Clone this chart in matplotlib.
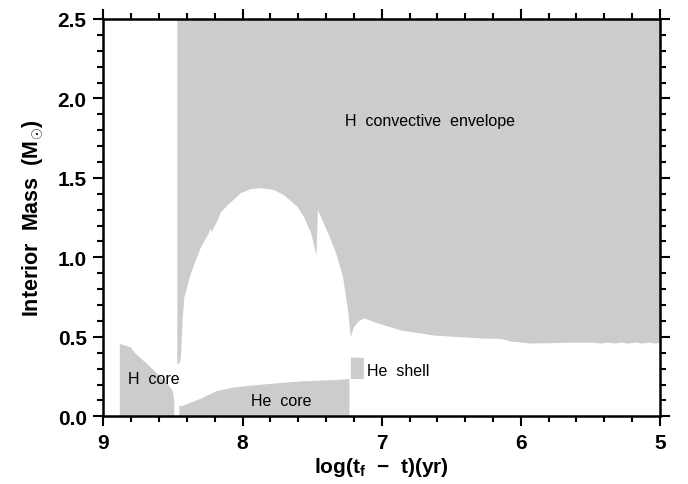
import matplotlib
matplotlib.use('Agg')
import matplotlib.pyplot as plt
from matplotlib.ticker import MultipleLocator

plt.rcParams['font.family'] = ['Liberation Sans', 'DejaVu Sans']
plt.rcParams['mathtext.fontset'] = 'custom'
plt.rcParams['mathtext.rm'] = 'Liberation Sans:bold'
plt.rcParams['mathtext.it'] = 'Liberation Sans:bold'
plt.rcParams['mathtext.bf'] = 'Liberation Sans:bold'

GRAY = '#cccccc'

# lower boundary of the H convective envelope (x = log(tf - t), y = mass)
env_x = [8.472, 8.455, 8.446, 8.434, 8.422, 8.374, 8.302, 8.245, 8.232, 8.226,
         8.218, 8.182, 8.158, 8.086, 8.014, 7.942, 7.871, 7.777, 7.705, 7.606,
         7.561, 7.511, 7.472, 7.462, 7.388, 7.331, 7.281, 7.245, 7.225, 7.205,
         7.17, 7.129, 7.029, 6.863, 6.626, 6.266, 6.144, 6.072, 5.928, 5.568,
         5.47, 5.43, 5.38, 5.33, 5.28, 5.23, 5.18, 5.13, 5.08, 5.04, 5.0]
env_y = [0.335, 0.335, 0.372, 0.606, 0.751, 0.903, 1.067, 1.155, 1.185, 1.160,
         1.174, 1.237, 1.288, 1.351, 1.408, 1.433, 1.439, 1.427, 1.395, 1.319,
         1.256, 1.155, 1.016, 1.300, 1.155, 1.029, 0.878, 0.669, 0.500, 0.560,
         0.600, 0.619, 0.587, 0.543, 0.511, 0.492, 0.490, 0.473, 0.461, 0.467,
         0.466, 0.460, 0.467, 0.461, 0.467, 0.460, 0.467, 0.461, 0.467, 0.461, 0.467]

# convective H core
hcore_x = [8.885, 8.806, 8.782, 8.662, 8.542, 8.506, 8.494]
hcore_y = [0.459, 0.437, 0.406, 0.311, 0.208, 0.164, 0.101]

# convective He core
hecore_x = [8.458, 8.434, 8.302, 8.182, 8.062, 7.942, 7.820, 7.580, 7.340, 7.235]
hecore_y = [0.069, 0.069, 0.114, 0.164, 0.185, 0.196, 0.206, 0.223, 0.231, 0.238]

# He shell
shell_x = [7.225, 7.132]
shell_lo = [0.238, 0.238]
shell_hi = [0.374, 0.370]

fig = plt.figure(figsize=(6.88, 4.85), dpi=100)
ax = fig.add_axes([0.1502, 0.1396, 0.8091, 0.8192])

ax.fill_between(env_x, env_y, 2.5, color=GRAY, lw=0)
ax.fill_between(hcore_x, 0, hcore_y, color=GRAY, lw=0)
ax.fill_between(hecore_x, 0, hecore_y, color=GRAY, lw=0)
ax.fill_between(shell_x, shell_lo, shell_hi, color=GRAY, lw=0)

ax.text(6.655, 1.86, 'H  convective  envelope', ha='center', va='center', fontsize=11.5)
ax.text(8.635, 0.238, 'H  core', ha='center', va='center', fontsize=11.5)
ax.text(7.724, 0.101, 'He  core', ha='center', va='center', fontsize=11.5)
ax.text(7.103, 0.29, 'He  shell', ha='left', va='center', fontsize=11.5)

ax.set_xlim(9, 5)
ax.set_ylim(0, 2.5)
ax.xaxis.set_major_locator(MultipleLocator(1))
ax.xaxis.set_minor_locator(MultipleLocator(0.2))
ax.yaxis.set_major_locator(MultipleLocator(0.5))
ax.yaxis.set_minor_locator(MultipleLocator(0.1))
ax.yaxis.set_major_formatter(plt.FormatStrFormatter('%.1f'))

ax.tick_params(which='both', direction='out', top=True, right=True, width=1.5,
               labelsize=15)
ax.tick_params(which='major', length=7, pad=5)
ax.tick_params(which='minor', length=4)
for lab in ax.get_xticklabels() + ax.get_yticklabels():
    lab.set_fontweight('bold')
for sp in ax.spines.values():
    sp.set_linewidth(1.8)

ax.set_xlabel(r'log(t$_{\rm f}$  $-$  t)(yr)', fontsize=15, fontweight='bold', labelpad=2)
ax.set_ylabel(r'Interior  Mass  (M$_{\odot}$)', fontsize=15.5, fontweight='bold', labelpad=8)

fig.savefig('out.png', dpi=100)
